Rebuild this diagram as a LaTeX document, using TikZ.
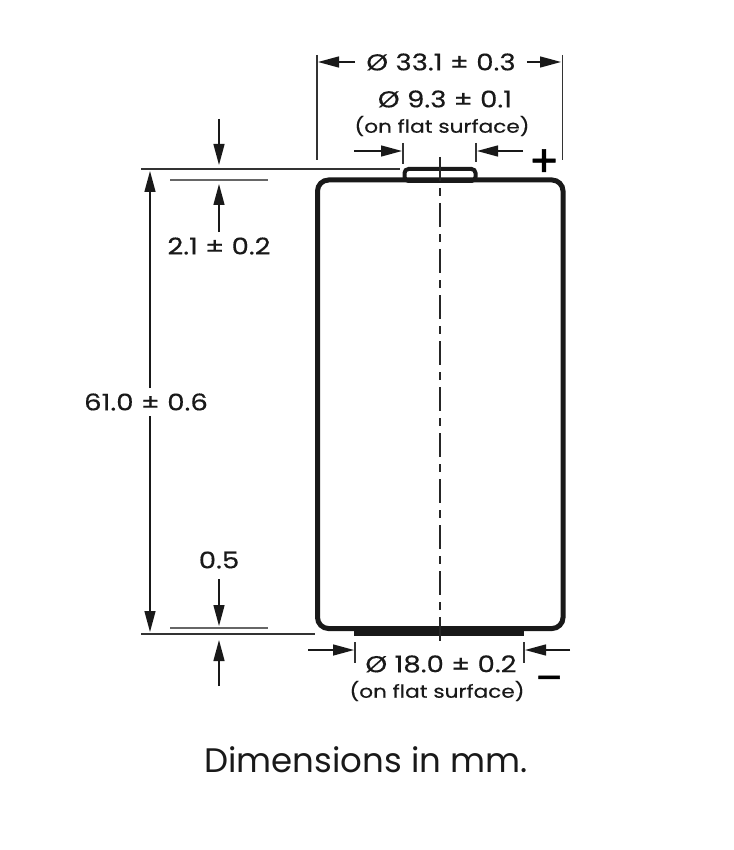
\documentclass[tikz,border=0pt]{standalone}
\usepackage{fontspec}
\setmainfont[FakeStretch=1.2,FakeBold=0.4]{Poppins}
\newfontfamily\capfont{Poppins}
\newfontfamily\signfont[FakeBold=1.2]{Poppins}
\usetikzlibrary{%
  arrows.meta%
}

\begin{document}
\begin{tikzpicture}[
    x=1pt,y=-1pt,
    >={Stealth[length=21pt,width=11pt,inset=0pt]},
    dimline/.style={->,line width=1.4pt,black!90},
    extline/.style={line width=1.1pt,black!80},
    refline/.style={line width=1.8pt,black!60},
    outline/.style={draw,line width=5pt,rounded corners=11pt,black!90,inner sep=0pt},
    axis/.style={line width=1.5pt,black!85,dash pattern=on 24pt off 7pt on 8pt off 7pt},
    size/.style={inner sep=0pt,font=\fontsize{23}{25}\selectfont,black!90},
    note/.style={inner sep=0pt,font=\fontsize{18}{20}\selectfont,black!90},
    sign/.style={inner sep=0pt,font=\signfont\fontsize{#1}{#1}\selectfont,black}
  ]

    \useasboundingbox (0,0) rectangle (733,850);

    % battery
    \node[outline,line width=4pt,rounded corners=4pt,fill=white,minimum width=71pt,minimum height=12pt] (anode) at (440,175) {};
    \node[outline,minimum width=245.5pt,minimum height=448.5pt] (body) at (440.25,404.25) {};
    \node[fill=black!90,inner sep=0pt,minimum width=170pt,minimum height=8pt] (cathode) at (439,632) {};
    \coordinate (axistop) at (440,157);
    \coordinate (axisbot) at (440,642);
    \draw[axis] (axistop) -- (axisbot);

    % labels
    \node[size,inner xsep=11pt] (outer) at (441,62) {Ø 33.1 ± 0.3};
    \node[size] (topflat) at (445,99)  {Ø 9.3 ± 0.1};
    \node[note] (topnote) at (442,126) {(on flat surface)};
    \node[size] (botflat) at (441,664) {Ø 18.0 ± 0.2};
    \node[note] (botnote) at (437,691) {(on flat surface)};
    \node[size] (height)  at (146,402) {61.0 ± 0.6};
    \node[size] (cap)     at (219,246) {2.1 ± 0.2};
    \node[size] (rim)     at (219,560) {0.5};
    \node[inner sep=0pt,font=\capfont\fontsize{34}{36}\selectfont,black!90] (caption) at (366,760) {Dimensions in mm.};
    \node[sign=44] (plus) at (544,163) {+};
    \node[sign=40] (minus) at (549,684) {–};

    % end points
    \coordinate (extA) at (317,55);     \coordinate (extAe) at (317,160);
    \coordinate (extB) at (562.5,55);   \coordinate (extBe) at (562.5,160);
    \coordinate (extC) at (403,143);    \coordinate (extCe) at (403,164);
    \coordinate (extD) at (476,143);    \coordinate (extDe) at (476,162);
    \coordinate (extE) at (355,642);    \coordinate (extEe) at (355,663);
    \coordinate (extF) at (524,642);    \coordinate (extFe) at (524,663);
    \coordinate (topL) at (141,169);    \coordinate (topR) at (400,169);
    \coordinate (botL) at (141,634);    \coordinate (botR) at (315,634);
    \coordinate (capL) at (170,180);    \coordinate (capR) at (268,180);
    \coordinate (rimL) at (170,628);    \coordinate (rimR) at (268,628);

    \coordinate (outerL) at (318,62);   \coordinate (outerR) at (561,62);
    \coordinate (flatAa) at (354,151);  \coordinate (flatAb) at (402,151);
    \coordinate (flatBa) at (523,151);  \coordinate (flatBb) at (477,151);
    \coordinate (flatCa) at (308,650);  \coordinate (flatCb) at (354,650);
    \coordinate (flatDa) at (570,650);  \coordinate (flatDb) at (525,650);
    \coordinate (tallAa) at (150,388);  \coordinate (tallAb) at (150,171);
    \coordinate (tallBa) at (150,416);  \coordinate (tallBb) at (150,632);
    \coordinate (capAa) at (219,119);   \coordinate (capAb) at (219,165);
    \coordinate (capBa) at (219,232);   \coordinate (capBb) at (219,184);
    \coordinate (rimAa) at (219,579);   \coordinate (rimAb) at (219,626);
    \coordinate (rimBa) at (219,686);   \coordinate (rimBb) at (219,640);

    % extension lines
    \draw[extline] (extA) -- (extAe);
    \draw[extline] (extB) -- (extBe);
    \draw[extline] (extC) -- (extCe);
    \draw[extline] (extD) -- (extDe);
    \draw[extline] (extE) -- (extEe);
    \draw[extline] (extF) -- (extFe);
    \draw[extline] (topL) -- (topR);
    \draw[extline] (botL) -- (botR);
    \draw[refline] (capL) -- (capR);
    \draw[refline] (rimL) -- (rimR);

    % arrows
    \draw[dimline] (outer) -- (outerL);
    \draw[dimline] (outer) -- (outerR);
    \draw[dimline] (flatAa) -- (flatAb);
    \draw[dimline] (flatBa) -- (flatBb);
    \draw[dimline] (flatCa) -- (flatCb);
    \draw[dimline] (flatDa) -- (flatDb);
    \draw[dimline] (tallAa) -- (tallAb);
    \draw[dimline] (tallBa) -- (tallBb);
    \draw[dimline] (capAa) -- (capAb);
    \draw[dimline] (capBa) -- (capBb);
    \draw[dimline] (rimAa) -- (rimAb);
    \draw[dimline] (rimBa) -- (rimBb);
\end{tikzpicture}
\end{document}
